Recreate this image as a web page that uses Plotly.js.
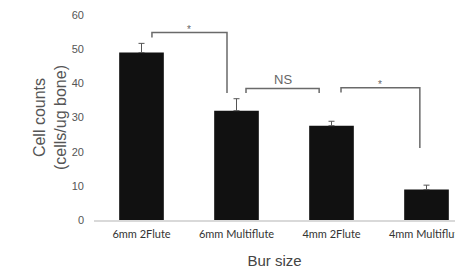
<!DOCTYPE html>
<html>
<head>
<meta charset="utf-8">
<script src="https://cdn.plot.ly/plotly-3.0.1.min.js"></script>
<style>
  html, body { margin: 0; padding: 0; background: #fff; overflow: hidden; }
  #chart { width: 455px; height: 269px; overflow: hidden; }
</style>
</head>
<body>
<div id="chart"></div>
<script>
// ---- data ----
const categories = ["6mm 2Flute", "6mm Multiflute", "4mm 2Flute", "4mm Multiflute"];
const cellCounts = [49.0, 32.0, 27.6, 8.9];
const errorValues = [2.7, 3.5, 1.3, 1.3];
const yTicks = [0, 10, 20, 30, 40, 50, 60];

// significance brackets: [left index pos, right index pos], top height, left foot, right foot, label
const bracketLeft = [0.11, 1.10, 2.10];
const bracketRight = [0.90, 1.87, 2.93];
const bracketTop = [54.9, 38.5, 38.7];
const bracketLeftFoot = [53.4, 37.2, 37.3];
const bracketRightFoot = [37.2, 37.2, 21.1];
const bracketLabels = ["*", "NS", "*"];
const bracketLabelY = [55.7, 41.0, 39.6];

// ---- build ----
const xIdx = categories.map((c, i) => i);

const trace = {
  type: "bar",
  x: xIdx,
  y: cellCounts,
  marker: { color: "#111111", line: { width: 0 } },
  error_y: { type: "data", array: errorValues, symmetric: false, arrayminus: errorValues.map(() => 0),
             color: "#555555", thickness: 1, width: 3 },
  hoverinfo: "skip"
};

const shapes = [];
const annotations = [];
const lineStyle = { color: "#6a6a6a", width: 1.5 };
for (let i = 0; i < bracketLabels.length; i++) {
  shapes.push({
    type: "path", xref: "x", yref: "y",
    path: `M ${bracketLeft[i]},${bracketLeftFoot[i]} L ${bracketLeft[i]},${bracketTop[i]} L ${bracketRight[i]},${bracketTop[i]} L ${bracketRight[i]},${bracketRightFoot[i]}`,
    line: lineStyle
  });
  const isStar = bracketLabels[i] === "*";
  annotations.push({
    xref: "x", yref: "y",
    x: (bracketLeft[i] + bracketRight[i]) / 2,
    y: bracketLabelY[i],
    text: bracketLabels[i],
    showarrow: false,
    font: { family: "Liberation Sans, Arial, sans-serif", size: isStar ? 10 : 13, color: "#666666" }
  });
}

const layout = {
  width: 455, height: 269,
  margin: { l: 94, r: 0, t: 15, b: 49, pad: 0 },
  paper_bgcolor: "#ffffff", plot_bgcolor: "#ffffff",
  showlegend: false,
  bargap: 0.53,
  xaxis: {
    range: [-0.5, 3.3],
    tickvals: xIdx, ticktext: categories,
    showgrid: false, zeroline: false,
    showline: true, linecolor: "#d9d9d9", linewidth: 1.5,
    ticks: "", ticklabelstandoff: 3,
    ticklabeloverflow: "allow",
    tickfont: { family: "Lato, sans-serif", size: 11, color: "#333333" },
    title: { text: "Bur size", standoff: 17, font: { family: "Liberation Sans, Arial, sans-serif", size: 15, color: "#444444" } },
    automargin: false
  },
  yaxis: {
    range: [0, 60],
    tickvals: yTicks,
    showgrid: false, zeroline: false, showline: false,
    ticks: "", ticklabelstandoff: 9,
    tickfont: { family: "Liberation Sans, Arial, sans-serif", size: 11, color: "#555555" },
    title: { text: "Cell counts<br>(cells/ug bone)", standoff: 1, font: { family: "Liberation Sans, Arial, sans-serif", size: 16, color: "#555555" } },
    automargin: false
  },
  shapes: shapes,
  annotations: annotations
};

Plotly.newPlot("chart", [trace], layout, { staticPlot: true, displayModeBar: false });
</script>
</body>
</html>
